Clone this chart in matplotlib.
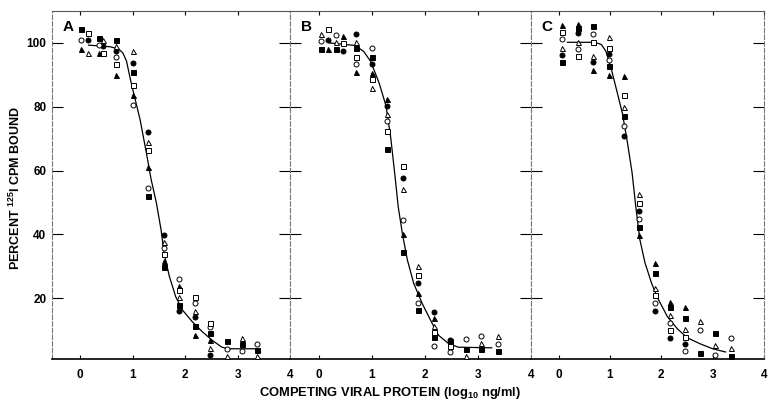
import numpy as np
import matplotlib
matplotlib.use("Agg")
from matplotlib import pyplot as plt

plt.rcParams['font.family'] = ['Liberation Sans', 'DejaVu Sans']
plt.rcParams['mathtext.default'] = 'regular'

nan = np.nan

# Panel A: competition data (log10 ng/ml, percent bound)
a_x = {
    'fc': [0.14, 0.44, 0.69, 1.01, 1.29, 1.59, 1.89, 2.19, 2.48],
    'oc': [0.02, 0.35, 0.69, 1.01, 1.29, 1.59, 1.89, 2.19, 2.48, 2.79, 3.08, 3.38],
    'ft': [0.02, 0.35, 0.69, 1.01, 1.29, 1.59, 1.89, 2.19, 2.48],
    'ot': [0.14, 0.44, 0.69, 1.01, 1.29, 1.59, 1.89, 2.19, 2.48, 2.79, 3.08, 3.38],
    'fs': [0.02, 0.35, 0.69, 1.01, 1.29, 1.59, 1.89, 2.19, 2.48, 2.79, 3.08, 3.38],
    'os': [0.14, 0.44, 0.69, 1.01, 1.29, 1.59, 1.89, 2.19, 2.48],
}
a_y = {
    'fc': [100.8, 99, 97.5, 93.8, 72, 39.8, 16, 14, 2.4],
    'oc': [101, 99.3, 95.5, 80.6, 54.7, 35.8, 26, 18.4, 11, 4, 3.5, 5.8],
    'ft': [98, 97, 90, 83.6, 61, 31.8, 24, 8.6, 7],
    'ot': [97, 101, 99, 97.4, 69, 37.7, 20.5, 16, 4.4, 1.8, 7.7, 1.8],
    'fs': [104.3, 101.5, 101, 91, 52, 29.7, 18, 11.4, 9, 6.5, 5.8, 3.9],
    'os': [103, 97, 93.5, 86.7, 66.4, 34, 22.6, 20.3, 12.4],
}
a_curve_x = [0.16, 0.57, 0.73, 0.81, 0.88, 0.95, 1.01, 1.14, 1.26, 1.35, 1.45, 1.54,
             1.60, 1.70, 1.82, 1.95, 2.14, 2.33, 2.52, 2.70, 2.83, 3.40]
a_curve_y = [99.3, 98.8, 98.1, 96.9, 94.4, 89, 84.8, 76, 65.6, 57.3, 50, 41.5,
             34, 26.8, 20.5, 16.3, 12.6, 9.5, 6.8, 4.7, 4.2, 4.2]

# Panel B
b_x = {
    'fc': [0.17, 0.45, 0.71, 1.0, 1.28, 1.58, 1.88, 2.17, 2.47],
    'oc': [0.05, 0.33, 0.71, 1.0, 1.28, 1.58, 1.88, 2.17, 2.47, 2.77, 3.06, 3.37],
    'ft': [0.17, 0.45, 0.71, 1.0, 1.28, 1.58, 1.88, 2.17],
    'ot': [0.05, 0.33, 0.71, 1.0, 1.28, 1.58, 1.88, 2.17, 2.77, 3.06, 3.37],
    'fs': [0.05, 0.33, 0.71, 1.0, 1.28, 1.58, 1.88, 2.17, 2.47, 2.77, 3.06, 3.37],
    'os': [0.17, 0.45, 0.71, 1.0, 1.28, 1.58, 1.88, 2.17, 2.47],
}
b_y = {
    'fc': [101, 97.6, 102.9, 93.4, 80.4, 57.6, 24.9, 15.6, 6.8],
    'oc': [100.5, 102.4, 93.5, 98.3, 75.4, 44.5, 18.6, 5, 3.2, 7.2, 8.2, 5.8],
    'ft': [98.1, 102.3, 90.9, 90.5, 82.3, 40, 21.6, 13.7],
    'ot': [102.7, 100.2, 100.3, 86, 77.8, 54.2, 30, 11.4, 1.9, 6.1, 8.2],
    'fs': [98.1, 98.1, 98.3, 95.7, 66.9, 34.6, 16.3, 7.9, 6.5, 4.2, 4.2, 3.5],
    'os': [104.3, 100, 95.6, 88.6, 72.3, 61.5, 27.4, 9.5, 5],
}
b_curve_x = [0.2, 0.69, 0.85, 0.98, 1.14, 1.27, 1.36, 1.44, 1.5, 1.58, 1.67, 1.79,
             1.95, 2.14, 2.26, 2.45, 2.63, 3.26]
b_curve_y = [100, 99.2, 97.3, 94.2, 87.4, 80.2, 70, 58, 48.5, 40, 32.1, 24.7,
             18.4, 12.1, 8.4, 5.8, 4.7, 4.5]

# Panel C
c_doses = [0.06, 0.37, 0.66, 0.98, 1.27, 1.57, 1.87, 2.16, 2.47, 2.76, 3.05, 3.36]
c_y = {
    'fc': [96.2, 103, 93.9, 96.6, 70.8, 47.2, 16, 7.7, 5.6, nan, nan, nan],
    'oc': [101.1, 98.1, 102.7, 94.7, 74.1, 44.7, 18.6, 12.4, 3.4, 10, 2.4, 7.6],
    'ft': [105.6, 106, 91.4, 90, 89.7, 39.7, 31, 18.7, 17.4, nan, nan, nan],
    'ot': [98.5, 100.2, 95.9, 101.7, 79.8, 52.6, 23.2, 14.7, 10.5, 12.8, 5.5, 4.5],
    'fs': [93.9, 104.6, 105.3, 92.8, 77, 42.5, 27.9, 17.2, 13.7, 3, 9, 1.9],
    'os': [103.5, 95.9, 100.2, 98.3, 83.8, 49.8, 21, 10.2, 7.9, nan, nan, nan],
}
c_curve_x = [0.17, 0.70, 0.83, 0.92, 1.02, 1.11, 1.24, 1.33, 1.43, 1.50, 1.58, 1.68,
             1.81, 1.93, 2.12, 2.31, 2.50, 2.75, 3.0, 3.25]
c_curve_y = [100.2, 100.2, 99.5, 97.4, 92.1, 86.4, 78, 69.7, 59.3, 49, 38.5, 31.2,
             24.7, 20, 14.2, 10.5, 7.7, 5.8, 4.2, 3.2]

x_ticks = [0, 1, 2, 3, 4]
y_ticks = [20, 40, 60, 80, 100]
panel_letters = ['A', 'B', 'C']

styles = {
    'fc': ('o', 'black'), 'oc': ('o', 'white'),
    'ft': ('^', 'black'), 'ot': ('^', 'white'),
    'fs': ('s', 'black'), 'os': ('s', 'white'),
}

fig = plt.figure(figsize=(7.68, 4.08), dpi=100)
W, H = 768.0, 408.0
lefts = [52, 290, 531]
widths = [238, 241, 233]

panels = [
    (a_x, a_y, a_curve_x, a_curve_y),
    (b_x, b_y, b_curve_x, b_curve_y),
    ({k: c_doses for k in c_y}, c_y, c_curve_x, c_curve_y),
]

for i, (px, py, cx, cy) in enumerate(panels):
    ax = fig.add_axes([lefts[i] / W, 49 / H, widths[i] / W, 348 / H])
    ax.plot(cx, cy, color='black', lw=0.9, zorder=2)
    for key, (mk, fc) in styles.items():
        ax.plot(px[key], py[key], linestyle='none', marker=mk, ms=3.6,
                mfc=fc, mec='black', mew=0.7, zorder=3)
    ax.set_xlim(-0.54, 4.0)
    ax.set_ylim(1, 110)
    ax.set_xticks(x_ticks)
    ax.set_yticks(y_ticks)
    ax.tick_params(axis='x', direction='in', length=3, width=0.8, top=True,
                   bottom=True, pad=7, labelsize=8.5)
    ax.tick_params(axis='y', direction='in', length=8, width=0.8, left=True,
                   right=True, labelleft=(i == 0), pad=4, labelsize=8.5)
    for lab in ax.get_xticklabels() + ax.get_yticklabels():
        lab.set_fontweight('bold')
    ax.spines['bottom'].set_linewidth(1.2)
    ax.spines['top'].set_color('#555555')
    ax.spines['top'].set_linewidth(0.8)
    for side in ('left', 'right'):
        ax.spines[side].set_color('#777777')
        ax.spines[side].set_linewidth(0.8)
        ax.spines[side].set_linestyle((0, (4, 2)))
    ax.text(0.045, 0.975, panel_letters[i], transform=ax.transAxes,
            fontsize=11, fontweight='bold', va='top', ha='left')

fig.text(15 / W, 0.54, r'PERCENT $^{125}$I CPM BOUND', rotation=90,
         ha='center', va='center', fontsize=9, fontweight='bold')
fig.text(390 / W, 15 / H, r'COMPETING VIRAL PROTEIN (log$_{10}$ ng/ml)',
         ha='center', va='center', fontsize=9.3, fontweight='bold')

fig.savefig('out.png', dpi=100)
